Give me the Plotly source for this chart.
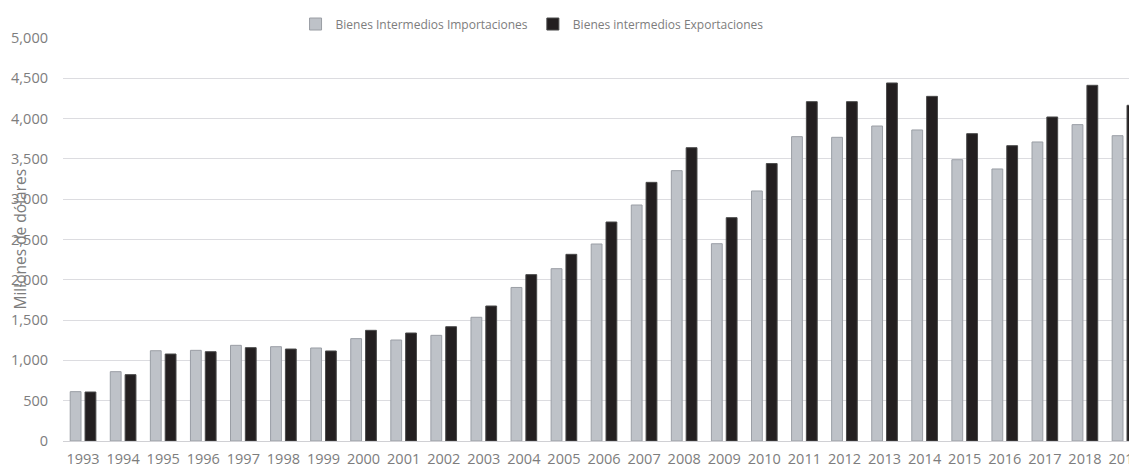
import plotly.graph_objects as go

# Años y valores (millones de dólares)
years = [str(y) for y in range(1993, 2020)]
importaciones = [612, 860, 1120, 1125, 1187, 1170, 1154, 1270, 1253, 1311, 1535, 1905, 2138,
                 2444, 2928, 3354, 2448, 3102, 3776, 3768, 3908, 3859, 3490, 3375, 3710, 3925, 3788]
exportaciones = [608, 823, 1079, 1108, 1158, 1141, 1117, 1373, 1340, 1418, 1675, 2064, 2316,
                 2717, 3209, 3639, 2771, 3442, 4210, 4210, 4442, 4276, 3813, 3664, 4020, 4413, 4165]

y_ticks = list(range(0, 5001, 500))
y_ticktext = [f"{v:,}" for v in y_ticks]

FONT = "Open Sans"
TEXT_COLOR = "#7d7d7d"

fig = go.Figure()
fig.add_trace(go.Bar(
    x=years, y=importaciones, name="Bienes Intermedios Importaciones",
    marker=dict(color="#bec2c8", line=dict(color="#9a9ea5", width=1)),
    width=0.27, offset=-0.32,
))
fig.add_trace(go.Bar(
    x=years, y=exportaciones, name="Bienes intermedios Exportaciones",
    marker=dict(color="#231f20", line=dict(color="#4a4a4a", width=1)),
    width=0.27, offset=0.05,
))

fig.update_layout(
    width=1129, height=468,
    margin=dict(l=63, r=0, t=38, b=27, pad=0),
    paper_bgcolor="white", plot_bgcolor="white",
    font=dict(family=FONT, size=13, color=TEXT_COLOR),
    barmode="overlay",
    showlegend=True,
    legend=dict(
        orientation="h", x=0.44, xanchor="center", y=1.0347, yanchor="middle",
        font=dict(family=FONT, size=12, color=TEXT_COLOR),
        itemwidth=30, traceorder="normal", bgcolor="rgba(0,0,0,0)",
    ),
    xaxis=dict(
        type="category", range=[-0.5, 26.1],
        showgrid=False, showline=False, ticks="",
        tickfont=dict(family=FONT, size=14.5, color=TEXT_COLOR),
        ticklabelstandoff=7,
        automargin=False,
    ),
    yaxis=dict(
        range=[0, 5000], tickvals=y_ticks, ticktext=y_ticktext,
        showgrid=True, gridcolor="#dcdce0", gridwidth=1,
        zeroline=True, zerolinecolor="#d0d0d4", zerolinewidth=1,
        showline=False, ticks="",
        tickfont=dict(family=FONT, size=14.5, color=TEXT_COLOR),
        ticklabelstandoff=14,
        automargin=False,
    ),
)

# Título del eje vertical, superpuesto a las etiquetas como en el original
fig.add_annotation(
    text="Millones de dólares", textangle=-90,
    xref="paper", yref="paper", x=-(63 - 19) / 1066, y=0.5,
    xanchor="center", yanchor="middle", showarrow=False,
    font=dict(family=FONT, size=15.5, color=TEXT_COLOR),
)

fig.write_html("out.html")
